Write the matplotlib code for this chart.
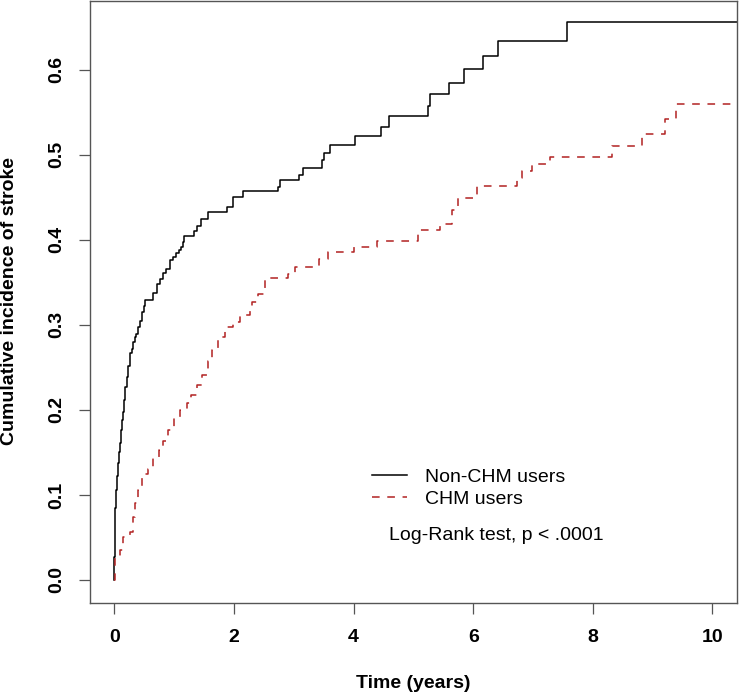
import matplotlib
matplotlib.use("Agg")
import matplotlib.pyplot as plt

plt.rcParams["font.family"] = ["Liberation Sans", "DejaVu Sans"]

# cumulative incidence step curves (time in years)
non_chm_t = [0, 0.003, 0.007, 0.015, 0.03, 0.045, 0.06, 0.075, 0.09, 0.105, 0.12, 0.135,
             0.145, 0.16, 0.18, 0.21, 0.23, 0.26, 0.29, 0.31, 0.34, 0.37, 0.40, 0.43,
             0.46, 0.49, 0.51, 0.65, 0.71, 0.76, 0.82, 0.87, 0.93, 0.98, 1.04, 1.08,
             1.12, 1.15, 1.17, 1.34, 1.38, 1.45, 1.57, 1.88, 1.98, 2.15, 2.73, 2.77,
             3.08, 3.15, 3.48, 3.51, 3.60, 4.02, 4.46, 4.60, 5.24, 5.28, 5.59, 5.85,
             6.17, 6.41, 7.56, 10.41]
non_chm_v = [0, 0.027, 0.067, 0.085, 0.106, 0.122, 0.137, 0.150, 0.161, 0.168, 0.176, 0.188,
             0.198, 0.212, 0.227, 0.239, 0.252, 0.267, 0.272, 0.280, 0.286, 0.289, 0.297, 0.305,
             0.315, 0.322, 0.329, 0.337, 0.348, 0.354, 0.361, 0.366, 0.376, 0.380, 0.384, 0.388,
             0.392, 0.398, 0.404, 0.410, 0.416, 0.424, 0.433, 0.439, 0.450, 0.457, 0.462, 0.471,
             0.476, 0.484, 0.494, 0.502, 0.512, 0.522, 0.533, 0.546, 0.558, 0.572, 0.585, 0.601,
             0.616, 0.634, 0.656, 0.656]

chm_t = [0, 0.02, 0.10, 0.15, 0.26, 0.32, 0.35, 0.40, 0.46, 0.57, 0.65, 0.74, 0.82,
         0.90, 0.99, 1.10, 1.21, 1.29, 1.38, 1.46, 1.57, 1.63, 1.74, 1.85, 1.99, 2.10,
         2.27, 2.31, 2.41, 2.52, 2.90, 3.02, 3.42, 3.58, 4.00, 4.40, 5.07, 5.45, 5.64,
         5.74, 6.06, 6.73, 6.81, 6.98, 7.29, 8.32, 8.82, 9.20, 9.39, 10.41]
chm_v = [0, 0.027, 0.035, 0.051, 0.057, 0.074, 0.090, 0.106, 0.125, 0.131, 0.143, 0.153, 0.163,
         0.176, 0.190, 0.200, 0.208, 0.218, 0.229, 0.241, 0.257, 0.271, 0.286, 0.298, 0.304, 0.312,
         0.316, 0.327, 0.336, 0.355, 0.360, 0.368, 0.378, 0.386, 0.392, 0.399, 0.412, 0.419, 0.435,
         0.449, 0.463, 0.473, 0.481, 0.489, 0.498, 0.511, 0.525, 0.542, 0.560, 0.560]

x_ticks = [0, 2, 4, 6, 8, 10]
y_ticks = [0.0, 0.1, 0.2, 0.3, 0.4, 0.5, 0.6]
labels = ["Non-CHM users", "CHM users"]

W, H = 740, 698
fig = plt.figure(figsize=(W / 100, H / 100), dpi=100)
ax = fig.add_axes([90 / W, 95 / H, 647 / W, 602 / H])

ax.plot(non_chm_t, non_chm_v, drawstyle="steps-post", color="black", lw=1.1,
        label=labels[0])
ax.plot(chm_t, chm_v, drawstyle="steps-post", color="#B22222", lw=1.1,
        dashes=(5.0, 5.0), label=labels[1])

ax.set_xlim(-0.406, 10.41)
ax.set_ylim(-0.0271, 0.681)
ax.set_xticks(x_ticks)
ax.set_xticklabels([str(v) for v in x_ticks], fontsize=14, fontweight="bold")
ax.set_yticks(y_ticks)
ax.set_yticklabels([f"{v:.1f}" for v in y_ticks], fontsize=14, fontweight="bold",
                   rotation=90, va="center")
ax.tick_params(axis="both", direction="out", length=8, width=0.9, color="#555555")
ax.tick_params(axis="x", pad=11)
ax.tick_params(axis="y", pad=10)
for sp in ax.spines.values():
    sp.set_color("#555555")
    sp.set_linewidth(1.0)

fig.text(10 / W, (H - 301) / H, "Cumulative incidence of stroke", rotation=90,
         ha="center", va="center", fontsize=14, fontweight="bold")
fig.text(413 / W, 15 / H, "Time (years)", ha="center", va="center",
         fontsize=14, fontweight="bold")

ax.legend(loc="upper left", bbox_to_anchor=((371.7 - 90) / 647, (603 - 468) / 602),
          frameon=False, fontsize=14, handlelength=1.8, handletextpad=0.95,
          labelspacing=0.25, borderpad=0, borderaxespad=0)
ax.text((389.3 - 90) / 647, (603 - 536) / 602, "Log-Rank test, p < .0001",
        transform=ax.transAxes, ha="left", va="center", fontsize=14)

fig.savefig("out.png", dpi=100)
